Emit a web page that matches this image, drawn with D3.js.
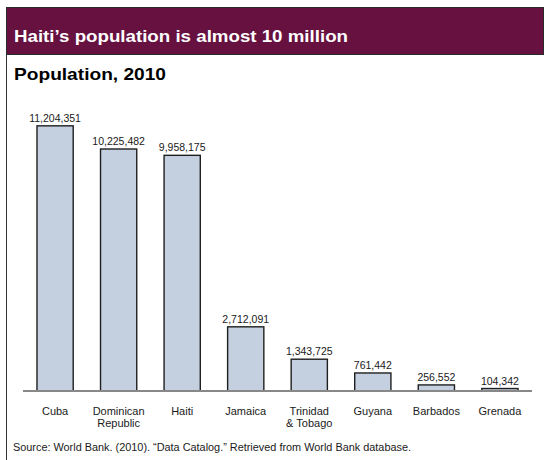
<!DOCTYPE html>
<html>
<head>
<meta charset="utf-8">
<script src="https://cdn.jsdelivr.net/npm/d3@7"></script>
<style>
  html, body { margin: 0; padding: 0; background: #fff; }
  svg { display: block; font-family: Arial, "Liberation Sans", sans-serif; }
</style>
</head>
<body>
<svg id="chart" width="544" height="460"></svg>
<script>
// Caribbean populations, 2010
const countries = ["Cuba", "Dominican Republic", "Haiti", "Jamaica", "Trinidad & Tobago", "Guyana", "Barbados", "Grenada"];
const categoryLines = [["Cuba"], ["Dominican", "Republic"], ["Haiti"], ["Jamaica"], ["Trinidad", "& Tobago"], ["Guyana"], ["Barbados"], ["Grenada"]];
const population = [11204351, 10225482, 9958175, 2712091, 1343725, 761442, 256552, 104342];

const titleText = "Haiti\u2019s population is almost 10 million";
const subtitleText = "Population, 2010";
const sourceText = "Source: World Bank. (2010). \u201cData Catalog.\u201d Retrieved from World Bank database.";

const svg = d3.select("#chart");

// Frame: header band plus left rule
svg.append("rect")
  .attr("x", 6.5).attr("y", 7.5)
  .attr("width", 537).attr("height", 47)
  .attr("fill", "#66113f")
  .attr("stroke", "#2a2a2a").attr("stroke-width", 1);
svg.append("line")
  .attr("x1", 6.5).attr("x2", 6.5)
  .attr("y1", 54).attr("y2", 460)
  .attr("stroke", "#333").attr("stroke-width", 1);

svg.append("text")
  .attr("x", 14).attr("y", 41.5)
  .attr("fill", "#fff")
  .attr("font-size", 17).attr("font-weight", "bold")
  .attr("textLength", 334).attr("lengthAdjust", "spacingAndGlyphs")
  .text(titleText);

svg.append("text")
  .attr("x", 14).attr("y", 80)
  .attr("fill", "#000")
  .attr("font-size", 17).attr("font-weight", "bold")
  .attr("textLength", 152).attr("lengthAdjust", "spacingAndGlyphs")
  .text(subtitleText);

// Scales
const x = d3.scaleBand()
  .domain(countries)
  .range([23, 532])
  .paddingInner(0.43)
  .paddingOuter(0.22);

const y = d3.scaleLinear()
  .domain([0, 12000000])
  .range([391, 107]);

const fmt = d3.format(",");

// Bars
svg.append("g").selectAll("rect")
  .data(countries)
  .join("rect")
  .attr("x", d => x(d))
  .attr("y", (d, i) => y(population[i]))
  .attr("width", x.bandwidth())
  .attr("height", (d, i) => y(0) - y(population[i]))
  .attr("fill", "#c4cfe0")
  .attr("stroke", "#1f1f1f")
  .attr("stroke-width", 1.4);

// Value labels
svg.append("g").selectAll("text")
  .data(countries)
  .join("text")
  .attr("x", d => x(d) + x.bandwidth() / 2)
  .attr("y", (d, i) => y(population[i]) - 4)
  .attr("text-anchor", "middle")
  .attr("font-size", 10.5)
  .attr("fill", "#1a1a1a")
  .text((d, i) => fmt(population[i]));

// Baseline axis
const xAxis = d3.axisBottom(x).tickSize(0).tickFormat("");
const axisG = svg.append("g")
  .attr("transform", `translate(0,${y(0)})`)
  .call(xAxis);
axisG.select(".domain")
  .attr("d", "M23,0H532")
  .attr("stroke", "#888")
  .attr("stroke-width", 2);

// Category labels
const catG = svg.append("g").selectAll("text")
  .data(countries)
  .join("text")
  .attr("x", d => x(d) + x.bandwidth() / 2)
  .attr("y", 415)
  .attr("text-anchor", "middle")
  .attr("font-size", 11)
  .attr("fill", "#1a1a1a");
catG.each(function(d, i) {
  d3.select(this).selectAll("tspan")
    .data(categoryLines[i])
    .join("tspan")
    .attr("x", x(d) + x.bandwidth() / 2)
    .attr("dy", (t, j) => j === 0 ? 0 : 12)
    .text(t => t);
});

// Source note
svg.append("text")
  .attr("x", 13).attr("y", 451)
  .attr("font-size", 10)
  .attr("fill", "#1a1a1a")
  .attr("textLength", 398).attr("lengthAdjust", "spacingAndGlyphs")
  .text(sourceText);
</script>
</body>
</html>
